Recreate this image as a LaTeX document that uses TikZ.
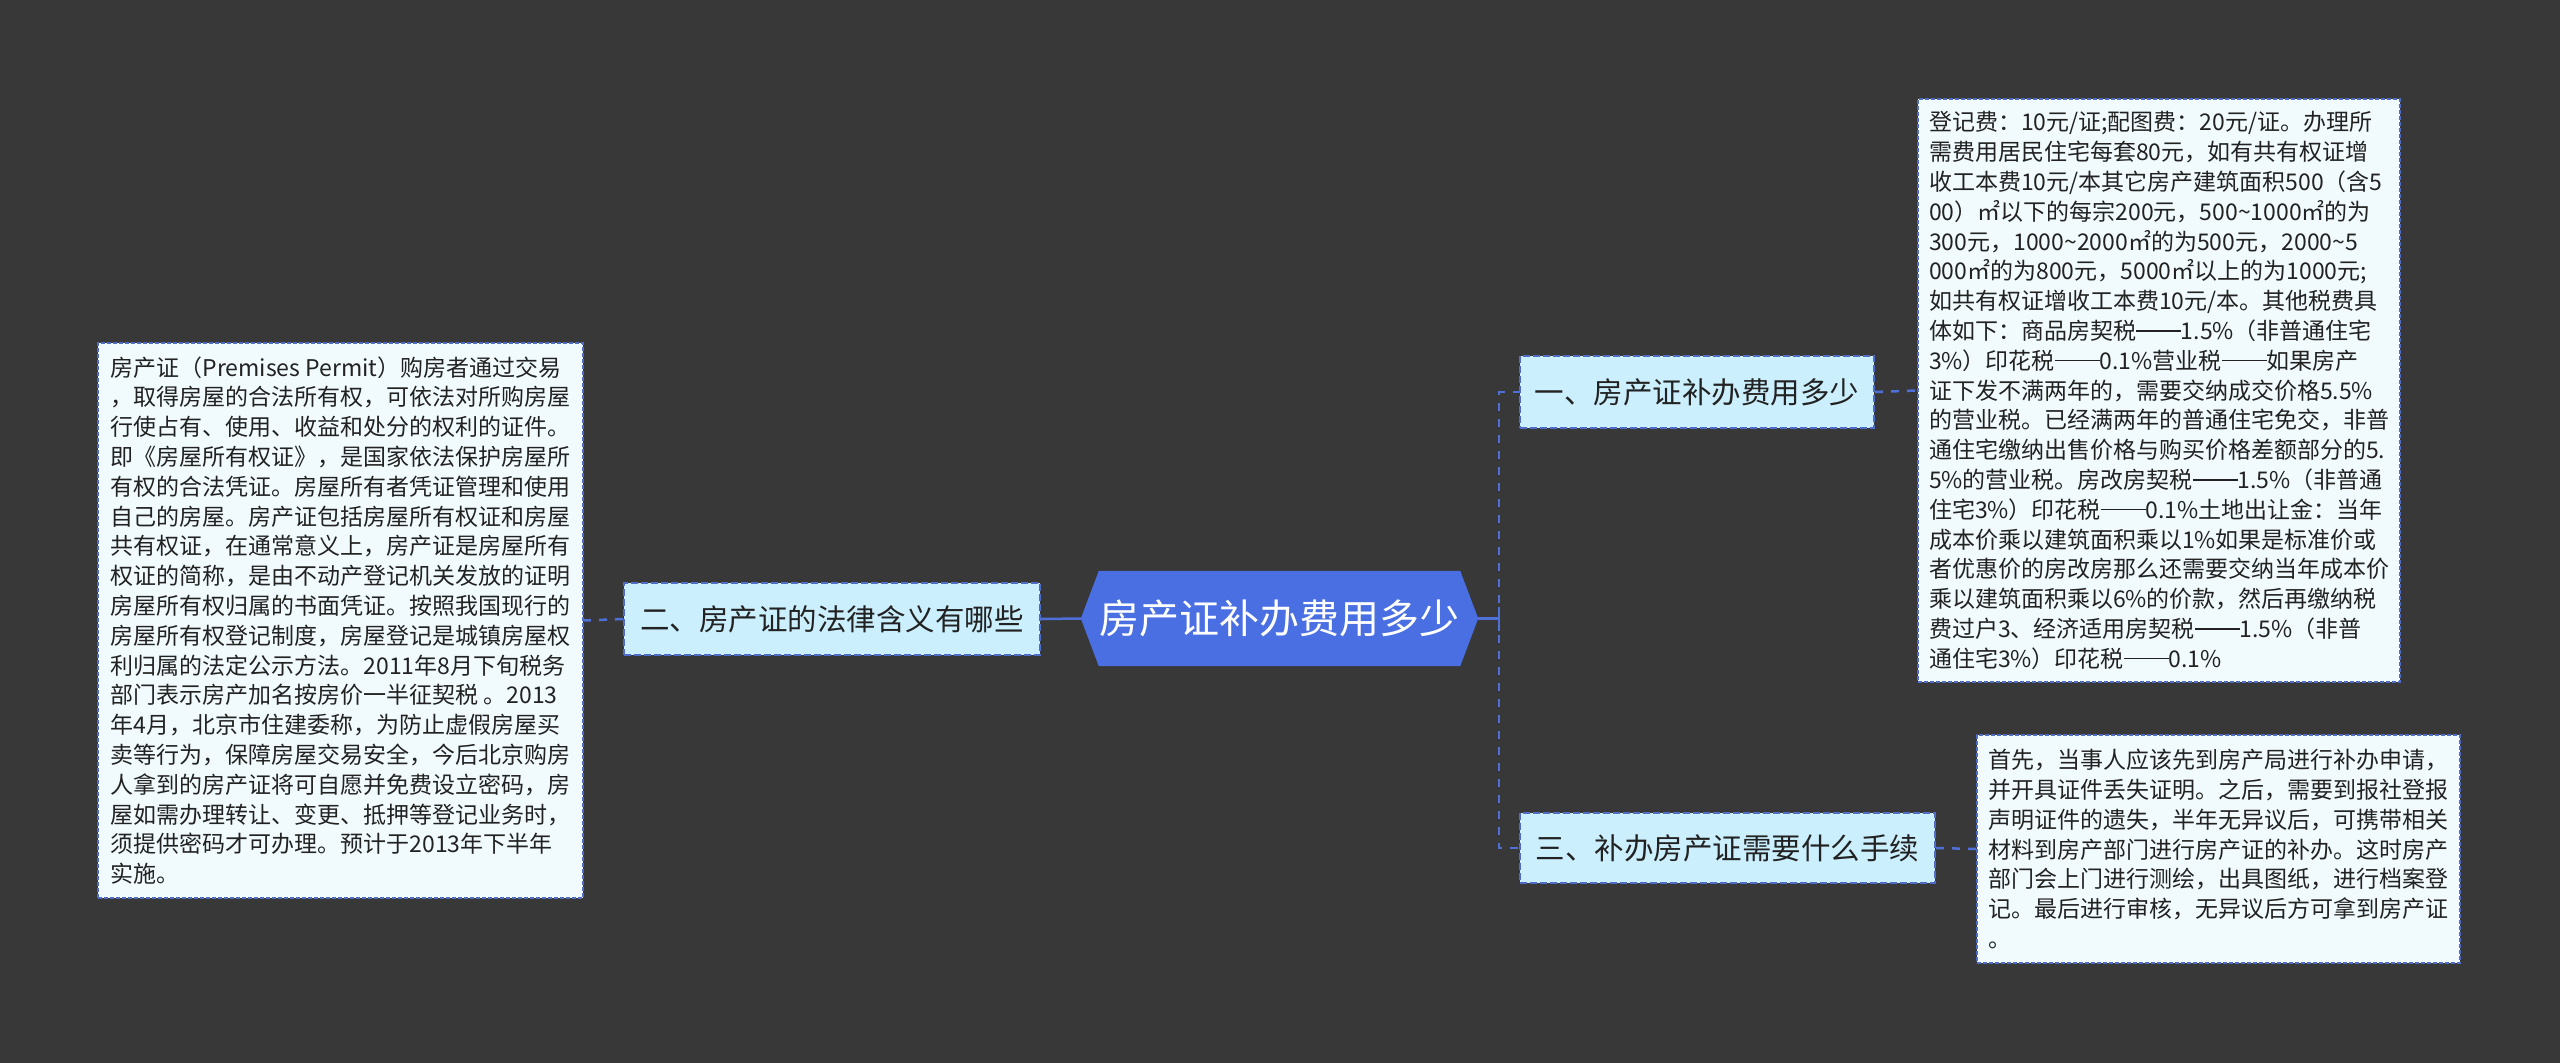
\documentclass[tikz,border=0pt]{standalone}
\usepackage{fontspec}
\setmainfont{Noto Sans CJK SC}
\usetikzlibrary{backgrounds}
\definecolor{bgc}{HTML}{383838}
\definecolor{hexc}{HTML}{4A6FE2}
\definecolor{topicc}{HTML}{CBEFFD}
\definecolor{boxc}{HTML}{F1FBFE}
\definecolor{bordc}{HTML}{4F6CC8}
\definecolor{linec}{HTML}{4F70D8}
\definecolor{txtc}{HTML}{222222}
\newcommand{\zdash}{\rule[0.34em]{1.95em}{0.06em}}
\tikzset{
  topic/.style={draw=bordc, line width=2pt, dash pattern=on 7pt off 3pt, fill=topicc,
    text=txtc, font=\fontsize{29.5}{36}\selectfont, inner sep=0pt, align=center},
  infobox/.style={draw=bordc, line width=1.5pt, dash pattern=on 4pt off 2pt, fill=boxc,
    text=txtc, font=\fontsize{23}{29.8}\selectfont, inner sep=0pt, align=left},
  roottext/.style={text=white, font=\fontsize{40}{48}\selectfont, inner sep=0pt},
  solidconn/.style={draw=linec, line width=2.5pt},
  dashconn/.style={draw=linec, line width=2.5pt, dash pattern=on 8pt off 8pt}
}
\begin{document}
\begin{tikzpicture}[x=1pt,y=-1pt]
\useasboundingbox (0,0) rectangle (2560,1063);

\node[roottext, minimum width=397pt, minimum height=95pt] (root) at (1279.5,618.5) {房产证补办费用多少};

\node[topic, minimum width=354pt, minimum height=72pt] (n1) at (1697,392) {一、房产证补办费用多少};
\node[topic, minimum width=416pt, minimum height=72pt] (n2) at (832,619) {二、房产证的法律含义有哪些};
\node[topic, minimum width=415pt, minimum height=70pt] (n3) at (1727.5,848) {三、补办房产证需要什么手续};

\node[infobox, minimum width=485pt, minimum height=555pt] (lbox) at (340.5,620.5) {房产证（Premises Permit）购房者通过交易\\
，取得房屋的合法所有权，可依法对所购房屋\\
行使占有、使用、收益和处分的权利的证件。\\
即《房屋所有权证》，是国家依法保护房屋所\\
有权的合法凭证。房屋所有者凭证管理和使用\\
自己的房屋。房产证包括房屋所有权证和房屋\\
共有权证，在通常意义上，房产证是房屋所有\\
权证的简称，是由不动产登记机关发放的证明\\
房屋所有权归属的书面凭证。按照我国现行的\\
房屋所有权登记制度，房屋登记是城镇房屋权\\
利归属的法定公示方法。2011年8月下旬税务\\
部门表示房产加名按房价一半征契税 。2013\\
年4月，北京市住建委称，为防止虚假房屋买\\
卖等行为，保障房屋交易安全，今后北京购房\\
人拿到的房产证将可自愿并免费设立密码，房\\
屋如需办理转让、变更、抵押等登记业务时，\\
须提供密码才可办理。预计于2013年下半年\\
实施。};

\node[infobox, minimum width=482pt, minimum height=583pt] (rbox) at (2159,390.5) {登记费：10元/证;配图费：20元/证。办理所\\
需费用居民住宅每套80元，如有共有权证增\\
收工本费10元/本其它房产建筑面积500（含5\\
00）㎡以下的每宗200元，500\textasciitilde{}1000㎡的为\\
300元，1000\textasciitilde{}2000㎡的为500元，2000\textasciitilde{}5\\
000㎡的为800元，5000㎡以上的为1000元;\\
如共有权证增收工本费10元/本。其他税费具\\
体如下：商品房契税\zdash{}1.5\%（非普通住宅\\
3\%）印花税\zdash{}0.1\%营业税\zdash{}如果房产\\
证下发不满两年的，需要交纳成交价格5.5\%\\
的营业税。已经满两年的普通住宅免交，非普\\
通住宅缴纳出售价格与购买价格差额部分的5.\\
5\%的营业税。房改房契税\zdash{}1.5\%（非普通\\
住宅3\%）印花税\zdash{}0.1\%土地出让金：当年\\
成本价乘以建筑面积乘以1\%如果是标准价或\\
者优惠价的房改房那么还需要交纳当年成本价\\
乘以建筑面积乘以6\%的价款，然后再缴纳税\\
费过户3、经济适用房契税\zdash{}1.5\%（非普\\
通住宅3\%）印花税\zdash{}0.1\%};

\node[infobox, minimum width=483pt, minimum height=228pt] (bbox) at (2218.5,849) {首先，当事人应该先到房产局进行补办申请，\\
并开具证件丢失证明。之后，需要到报社登报\\
声明证件的遗失，半年无异议后，可携带相关\\
材料到房产部门进行房产证的补办。这时房产\\
部门会上门进行测绘，出具图纸，进行档案登\\
记。最后进行审核，无异议后方可拿到房产证\\
。};

\coordinate (sp) at (1499,618.5);

\begin{scope}[on background layer]
  \fill[bgc] (0,0) rectangle (2560,1063);
  \fill[hexc] (root.west) -- ([xshift=18pt]root.north west) -- ([xshift=-18pt]root.north east)
    -- (root.east) -- ([xshift=-18pt]root.south east) -- ([xshift=18pt]root.south west) -- cycle;
  \draw[solidconn] (root.east) -- (sp);
  \draw[solidconn] (sp) ++(0,-12) -- ++(0,24);
  \draw[dashconn] (sp) |- (n1.west);
  \draw[dashconn] (sp) |- (n3.west);
  \draw[solidconn] (root.west) -- (n2.east);
  \draw[dashconn] (n2.west) -- (lbox.east);
  \draw[dashconn] (n1.east) -- (rbox.west);
  \draw[dashconn] (n3.east) -- (bbox.west);
\end{scope}
\end{tikzpicture}
\end{document}
